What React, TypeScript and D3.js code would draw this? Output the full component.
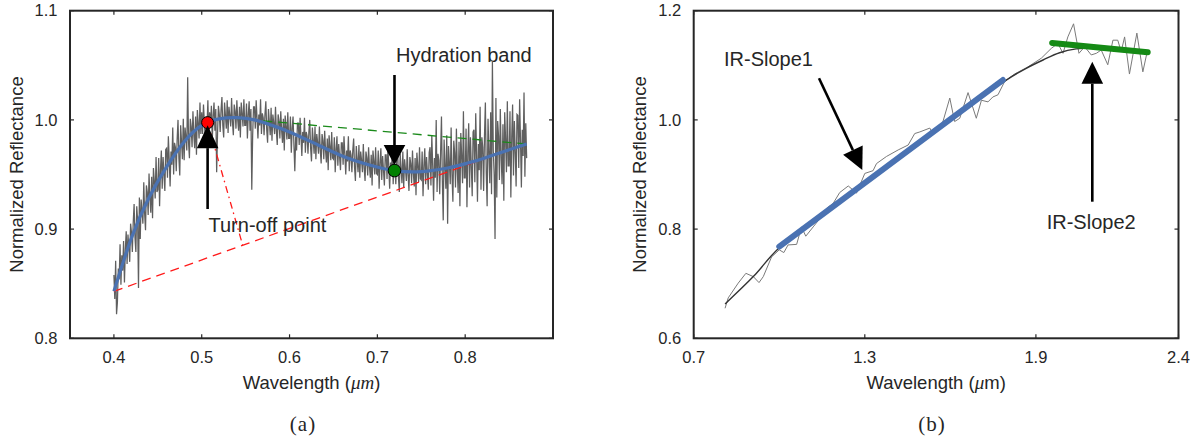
import React from "react";
import * as d3 from "d3";

// ---------- Panel (a) data ----------
const specAStart = 0.4;
const specAStep = 0.001;
const specAValues = [
  0.858, 0.836, 0.871, 0.822, 0.833, 0.864, 0.854, 0.886, 0.849, 0.876,
  0.862, 0.889, 0.851, 0.881, 0.898, 0.868, 0.895, 0.883, 0.870, 0.905,
  0.897, 0.879, 0.906, 0.923, 0.892, 0.879, 0.921, 0.908, 0.846, 0.929,
  0.891, 0.927, 0.917, 0.905, 0.943, 0.914, 0.899, 0.940, 0.934, 0.913,
  0.951, 0.928, 0.915, 0.948, 0.910, 0.956, 0.944, 0.928, 0.966, 0.934,
  0.936, 0.965, 0.921, 0.954, 0.972, 0.937, 0.966, 0.950, 0.935, 0.973,
  0.974, 0.947, 0.985, 0.963, 0.939, 0.971, 0.959, 0.993, 0.950, 0.979,
  0.975, 0.953, 0.982, 1.000, 0.965, 0.949, 0.995, 0.980, 0.964, 1.001,
  0.963, 0.993, 0.984, 0.972, 1.039, 0.979, 0.965, 1.001, 0.994, 0.975,
  1.008, 0.986, 0.974, 1.003, 0.968, 1.009, 0.997, 0.983, 1.016, 0.987,
  1.007, 0.987, 1.014, 0.998, 0.981, 1.003, 0.993, 1.018, 0.986, 1.007,
  0.993, 1.013, 0.981, 1.004, 1.016, 0.990, 1.010, 0.952, 0.987, 1.013,
  1.005, 0.989, 1.009, 1.021, 0.995, 0.984, 1.016, 1.004, 0.992, 1.018,
  0.988, 1.012, 1.004, 0.994, 1.020, 0.998, 0.986, 1.014, 1.008, 0.992,
  1.018, 1.000, 0.990, 1.012, 0.984, 1.016, 1.006, 0.994, 1.019, 0.995,
  0.995, 1.015, 0.983, 1.005, 1.017, 0.990, 1.010, 0.936, 0.986, 1.012,
  1.012, 0.992, 1.018, 1.001, 0.983, 1.005, 0.995, 1.019, 0.987, 1.006,
  1.002, 0.986, 1.005, 1.017, 0.991, 0.979, 1.010, 0.998, 0.986, 1.011,
  0.981, 1.005, 0.997, 0.987, 1.012, 0.990, 0.977, 1.005, 0.999, 0.983,
  1.008, 0.990, 0.979, 1.001, 0.972, 1.004, 0.994, 0.982, 1.007, 0.983,
  0.983, 1.003, 0.970, 0.992, 1.003, 0.977, 0.953, 0.985, 0.972, 0.997,
  0.997, 0.977, 1.002, 0.985, 0.967, 0.989, 0.979, 1.002, 0.970, 0.989,
  0.985, 0.969, 0.989, 1.000, 0.974, 0.962, 0.993, 0.981, 0.969, 0.994,
  0.964, 0.987, 0.979, 0.969, 0.994, 0.972, 0.960, 0.987, 0.981, 0.964,
  0.990, 0.972, 0.961, 0.983, 0.954, 0.986, 0.976, 0.963, 0.989, 0.965,
  0.964, 0.984, 0.952, 0.973, 0.985, 0.958, 0.978, 0.966, 0.954, 0.979,
  0.979, 0.959, 0.985, 0.968, 0.950, 0.972, 0.962, 0.985, 0.953, 0.972,
  0.968, 0.952, 0.972, 0.983, 0.957, 0.944, 0.976, 0.964, 0.952, 0.977,
  0.947, 0.971, 0.963, 0.952, 0.978, 0.956, 0.944, 0.971, 0.965, 0.949,
  0.975, 0.957, 0.947, 0.968, 0.940, 0.972, 0.962, 0.950, 0.975, 0.951,
  0.950, 0.972, 0.937, 0.961, 0.974, 0.945, 0.967, 0.954, 0.940, 0.968,
  0.968, 0.946, 0.975, 0.957, 0.937, 0.961, 0.950, 0.976, 0.941, 0.963,
  0.958, 0.941, 0.963, 0.976, 0.947, 0.934, 0.969, 0.955, 0.942, 0.971,
  0.938, 0.964, 0.955, 0.944, 0.973, 0.949, 0.935, 0.966, 0.960, 0.942,
  0.972, 0.951, 0.939, 0.965, 0.931, 0.970, 0.958, 0.943, 0.975, 0.946,
  0.945, 0.971, 0.930, 0.958, 0.974, 0.941, 0.966, 0.951, 0.936, 0.970,
  0.975, 0.940, 0.986, 0.958, 0.926, 0.965, 0.947, 1.000, 0.934, 0.969,
  0.963, 0.932, 0.970, 1.003, 0.944, 0.908, 0.982, 0.959, 0.937, 0.986,
  0.905, 0.976, 0.961, 0.941, 0.993, 0.949, 0.925, 0.981, 0.970, 0.938,
  0.992, 0.954, 0.933, 0.980, 0.921, 0.988, 0.967, 0.942, 1.008, 0.947,
  0.947, 0.992, 0.920, 0.970, 0.997, 0.938, 0.984, 0.957, 0.930, 0.989,
  0.991, 0.943, 1.006, 0.968, 0.925, 0.978, 0.954, 1.012, 0.936, 0.984,
  0.975, 0.935, 0.986, 1.016, 0.951, 0.921, 1.001, 0.971, 0.942, 1.007,
  0.932, 1.053, 0.972, 0.950, 0.891, 1.020, 0.929, 0.999, 0.985, 0.945,
  1.010, 0.966, 0.941, 0.996, 0.926, 1.007, 0.982, 0.952, 1.017, 0.958,
  0.958, 1.008, 0.929, 0.984, 1.014, 0.949, 0.999, 0.971, 0.939, 1.005,
  1.004, 0.956, 1.019, 0.981, 0.938, 0.991, 0.967, 1.025, 0.948, 0.997,
  0.965,
];
const fitAWl = [0.4, 0.42, 0.44, 0.46, 0.48, 0.5, 0.52, 0.54, 0.56, 0.58, 0.6, 0.63, 0.66, 0.69, 0.72, 0.75, 0.78, 0.81, 0.84, 0.87];
const fitAVal = [0.843, 0.892, 0.929, 0.957, 0.98, 0.995, 1.001, 1.002, 1.0, 0.995, 0.989, 0.978, 0.967, 0.959, 0.9536, 0.9527, 0.956, 0.962, 0.97, 0.978];
const turnOff = { wl: 0.5067, val: 0.9975 };
const bandMin = { wl: 0.7195, val: 0.9536 };
const greenDashA = [[0.536, 1.0016], [0.869, 0.978]];
const redDashA = [[0.4, 0.843], [0.869, 0.978]];
const redDashDotA = [[0.5067, 0.9975], [0.5465, 0.8856]];
const xTicksA = [0.4, 0.5, 0.6, 0.7, 0.8];
const yTicksA = [0.8, 0.9, 1.0, 1.1];

// ---------- Panel (b) data ----------
const specBWl = [
  0.81, 0.821, 0.856, 0.883, 0.909, 0.929, 0.944, 0.973, 1.0, 1.016, 1.031, 1.061, 1.078, 1.093,
  1.119, 1.148, 1.166, 1.189, 1.212, 1.242, 1.271, 1.3, 1.329, 1.341, 1.376, 1.417, 1.452, 1.475,
  1.493, 1.528, 1.539, 1.569, 1.598, 1.615, 1.633, 1.662, 1.691, 1.709, 1.732, 1.749, 1.767, 1.79,
  1.825, 1.872, 1.919, 1.954, 1.977, 1.995, 2.012, 2.032, 2.051, 2.071, 2.094, 2.112, 2.129, 2.152,
  2.17, 2.187, 2.199, 2.211, 2.228, 2.254, 2.275, 2.289,
];
const specBVal = [
  0.655, 0.674, 0.701, 0.719, 0.713, 0.702, 0.713, 0.749, 0.762, 0.757, 0.771, 0.772, 0.804, 0.787,
  0.804, 0.823, 0.838, 0.847, 0.867, 0.879, 0.866, 0.902, 0.907, 0.92, 0.933, 0.945, 0.954, 0.975,
  0.978, 0.985, 0.975, 0.988, 1.04, 0.997, 1.003, 1.05, 1.003, 1.036, 1.033, 1.042, 1.046, 1.07,
  1.084, 1.097, 1.113, 1.131, 1.14, 1.122, 1.152, 1.176, 1.122, 1.134, 1.119, 1.122, 1.128, 1.101,
  1.146, 1.146, 1.125, 1.152, 1.084, 1.159, 1.088, 1.122,
];
const fitBWl = [0.81, 0.909, 1.0, 1.2, 1.4, 1.6, 1.796, 1.866, 1.925, 1.983, 2.041, 2.12, 2.2];
const fitBVal = [0.663, 0.713, 0.766, 0.846, 0.924, 1.002, 1.073, 1.0945, 1.1097, 1.123, 1.13, 1.132, 1.132];
const slope1 = [[1.0, 0.768], [1.784, 1.073]];
const slope2 = [[1.957, 1.141], [2.292, 1.124]];
const xTicksB = [0.7, 1.3, 1.9, 2.4];
const yTicksB = [0.6, 0.8, 1.0, 1.2];

const SANS = "'Liberation Sans', Arial, sans-serif";
const SERIF = "'Liberation Serif', 'Times New Roman', serif";
const INK = "#262626";

function Arrow({ x1, y1, x2, y2, head = 22, half = 10.8, w = 2.6 }) {
  const dx = x2 - x1, dy = y2 - y1;
  const L = Math.hypot(dx, dy);
  const ux = dx / L, uy = dy / L;
  const bx = x2 - ux * head, by = y2 - uy * head;
  const nx = -uy, ny = ux;
  const pts = [[x2, y2], [bx + nx * half, by + ny * half], [bx - nx * half, by - ny * half]];
  return (
    <g>
      <line x1={x1} y1={y1} x2={bx} y2={by} stroke="#000" strokeWidth={w} />
      <polygon points={pts.map((p) => p.join(",")).join(" ")} fill="#000" />
    </g>
  );
}

function Frame({ x0, x1, y0, y1, xScale, yScale, xTicks, yTicks }) {
  const tl = 4;
  return (
    <g>
      {xTicks.map((t) => (
        <g key={"x" + t}>
          <line x1={xScale(t)} x2={xScale(t)} y1={y1} y2={y1 - tl} stroke={INK} strokeWidth={1.2} />
          <line x1={xScale(t)} x2={xScale(t)} y1={y0} y2={y0 + tl} stroke={INK} strokeWidth={1.2} />
          <text x={xScale(t)} y={y1 + 25} textAnchor="middle" fontFamily={SANS} fontSize={16.5} fill={INK}>
            {d3.format(".1f")(t)}
          </text>
        </g>
      ))}
      {yTicks.map((t) => (
        <g key={"y" + t}>
          <line x1={x0} x2={x0 + tl} y1={yScale(t)} y2={yScale(t)} stroke={INK} strokeWidth={1.2} />
          <line x1={x1} x2={x1 - tl} y1={yScale(t)} y2={yScale(t)} stroke={INK} strokeWidth={1.2} />
          <text x={x0 - 12.5} y={yScale(t)} dy="0.35em" textAnchor="end" fontFamily={SANS} fontSize={16.5} fill={INK}>
            {d3.format(".1f")(t)}
          </text>
        </g>
      ))}
      <rect x={x0} y={y0} width={x1 - x0} height={y1 - y0} fill="none" stroke={INK} strokeWidth={2} />
    </g>
  );
}

export default function App() {
  // Panel (a)
  const AX0 = 70, AX1 = 553, Y0 = 10.7, Y1 = 338.3;
  const xA = d3.scaleLinear().domain([0.35, 0.9]).range([AX0, AX1]);
  const yA = d3.scaleLinear().domain([0.8, 1.1]).range([Y1, Y0]);
  const specA = specAValues.map((v, i) => [specAStart + i * specAStep, v]);
  const lineA = d3.line().x((d) => xA(d[0])).y((d) => yA(d[1]));
  const fitA = fitAWl.map((w, i) => [w, fitAVal[i]]);
  const smoothA = d3.line().x((d) => xA(d[0])).y((d) => yA(d[1])).curve(d3.curveNatural);

  // Panel (b)
  const BX0 = 693.7, BX1 = 1178.5;
  const xB = d3.scaleLinear().domain([0.7, 2.4]).range([BX0, BX1]);
  const yB = d3.scaleLinear().domain([0.6, 1.2]).range([Y1, Y0]);
  const lineB = d3.line().x((d) => xB(d[0])).y((d) => yB(d[1]));
  const smoothB = d3.line().x((d) => xB(d[0])).y((d) => yB(d[1])).curve(d3.curveCatmullRom.alpha(0.5));
  const specB = specBWl.map((w, i) => [w, specBVal[i]]);
  const fitB = fitBWl.map((w, i) => [w, fitBVal[i]]);

  const tx = xA(turnOff.wl), ty = yA(turnOff.val);
  const hx = xA(bandMin.wl), hy = yA(bandMin.val);

  return (
    <svg width={1199} height={442} style={{ position: "absolute", left: 0, top: 0, background: "#fff" }}>
      <rect x={0} y={0} width={1199} height={442} fill="#fff" />
      {/* ===== Panel (a) ===== */}
      <g>
        <path d={lineA(specA)} fill="none" stroke="#5f5f5f" strokeWidth={1.25} />
        <path d={lineA(redDashA)} fill="none" stroke="#ff1a1a" strokeWidth={1.3} strokeDasharray="9,6" />
        <path d={lineA(greenDashA)} fill="none" stroke="#1a8a1a" strokeWidth={1.3} strokeDasharray="9,6" />
        <path d={lineA(redDashDotA)} fill="none" stroke="#ff1a1a" strokeWidth={1.3} strokeDasharray="7,4,1.5,4" />
        <path d={smoothA(fitA)} fill="none" stroke="#4a72b2" strokeWidth={3.2} />
        <circle cx={tx} cy={ty} r={6} fill="#ff0000" stroke="#000" strokeWidth={1} />
        <circle cx={hx} cy={hy} r={6.3} fill="#008000" stroke="#000" strokeWidth={1} />
        <Arrow x1={tx} y1={209} x2={tx} y2={ty + 2.5} head={23} half={10.8} />
        <Arrow x1={hx} y1={75} x2={hx} y2={hy - 5.5} head={20} half={10.8} />
        <text x={208.5} y={231.7} fontFamily={SANS} fontSize={20} fill={INK}>Turn-off point</text>
        <text x={396} y={62.3} fontFamily={SANS} fontSize={20} fill={INK}>Hydration band</text>
        <Frame x0={AX0} x1={AX1} y0={Y0} y1={Y1} xScale={xA} yScale={yA} xTicks={xTicksA} yTicks={yTicksA} />
        <text x={(AX0 + AX1) / 2} y={389} textAnchor="middle" fontFamily={SANS} fontSize={18.5} fill={INK}>
          Wavelength (<tspan fontFamily={SERIF} fontStyle="italic" fontSize={19}>μm</tspan>)
        </text>
        <text transform={`translate(23.3,${(Y0 + Y1) / 2}) rotate(-90)`} textAnchor="middle" fontFamily={SANS} fontSize={18.5} fill={INK}>
          Normalized Reflectance
        </text>
        <text x={303} y={431} textAnchor="middle" fontFamily={SERIF} fontSize={21} letterSpacing={1} fill={INK}>(a)</text>
      </g>

      {/* ===== Panel (b) ===== */}
      <g>
        <path d={lineB(specB)} fill="none" stroke="#7a7a7a" strokeWidth={1} />
        <path d={smoothB(fitB)} fill="none" stroke="#333" strokeWidth={1.4} />
        <path d={lineB(slope1)} fill="none" stroke="#4a72b2" strokeWidth={6} strokeLinecap="round" />
        <path d={lineB(slope2)} fill="none" stroke="#158a15" strokeWidth={6} strokeLinecap="round" />
        <Arrow x1={819} y1={78.3} x2={862.3} y2={170} head={22} half={10.8} />
        <Arrow x1={1092.3} y1={201.7} x2={1092.3} y2={61.7} head={22} half={10.8} />
        <text x={724} y={66} fontFamily={SANS} fontSize={20} fill={INK}>IR-Slope1</text>
        <text x={1046.7} y={229.3} fontFamily={SANS} fontSize={20} fill={INK}>IR-Slope2</text>
        <Frame x0={BX0} x1={BX1} y0={Y0} y1={Y1} xScale={xB} yScale={yB} xTicks={xTicksB} yTicks={yTicksB} />
        <text x={(BX0 + BX1) / 2} y={389} textAnchor="middle" fontFamily={SANS} fontSize={18.5} fill={INK}>
          Wavelength (<tspan fontFamily={SERIF} fontStyle="italic" fontSize={19}>μ</tspan>m)
        </text>
        <text transform={`translate(646,${(Y0 + Y1) / 2}) rotate(-90)`} textAnchor="middle" fontFamily={SANS} fontSize={18.5} fill={INK}>
          Normalized Reflectance
        </text>
        <text x={932} y={431} textAnchor="middle" fontFamily={SERIF} fontSize={21} letterSpacing={1} fill={INK}>(b)</text>
      </g>
    </svg>
  );
}
